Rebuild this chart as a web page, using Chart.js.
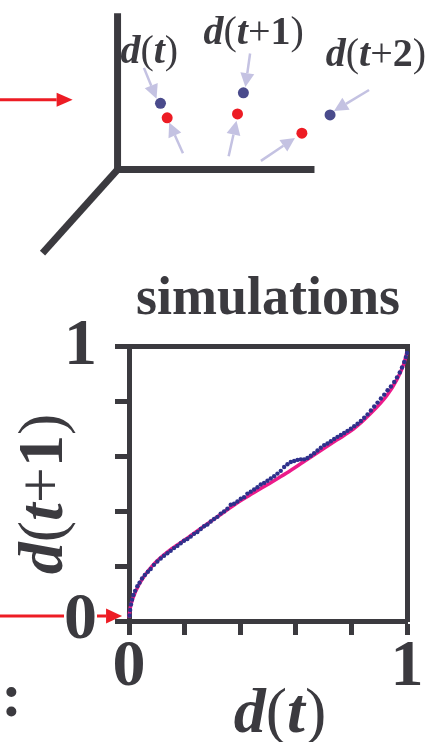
<!DOCTYPE html>
<html>
<head>
<meta charset="utf-8">
<script src="https://cdn.jsdelivr.net/npm/chart.js@4.4.1/dist/chart.umd.min.js"></script>
<style>
  html, body { margin: 0; padding: 0; background: #fff; }
  body { width: 435px; height: 742px; position: relative; overflow: hidden; }
  canvas { position: absolute; left: 0; }
  #sketch { top: 0; }
  #returnMap { top: 270px; }
</style>
</head>
<body>
<canvas id="sketch" width="435" height="270"></canvas>
<canvas id="returnMap" width="435" height="472"></canvas>
<script>
// ---- return map d(t) -> d(t+1) ----
// fitted curve
const fitX = [0, 0.004, 0.013, 0.037, 0.087, 0.147, 0.207, 0.267, 0.327, 0.387, 0.447, 0.507,
  0.567, 0.627, 0.687, 0.747, 0.807, 0.867, 0.927, 0.963, 0.987, 0.996, 1];
const fitY = [0.012, 0.045, 0.08, 0.135, 0.205, 0.259, 0.30, 0.344, 0.387, 0.43, 0.467, 0.503,
  0.54, 0.58, 0.62, 0.66, 0.70, 0.755, 0.822, 0.88, 0.934, 0.965, 0.982];

// simulated points
const simX = [0.002, 0.004, 0.007, 0.011, 0.016, 0.022, 0.03, 0.038, 0.047, 0.057, 0.068, 0.078,
  0.09, 0.102, 0.114, 0.126, 0.138, 0.15, 0.162, 0.174, 0.186, 0.198, 0.21, 0.222, 0.234, 0.246,
  0.258, 0.27, 0.282, 0.294, 0.306, 0.318, 0.33, 0.342, 0.354, 0.366, 0.378, 0.39, 0.402, 0.414,
  0.426, 0.438, 0.45, 0.462, 0.474, 0.486, 0.498, 0.51, 0.522, 0.534, 0.546, 0.558, 0.57, 0.582,
  0.594, 0.606, 0.618, 0.63, 0.642, 0.654, 0.666, 0.678, 0.69, 0.702, 0.714, 0.726, 0.738, 0.75,
  0.762, 0.774, 0.786, 0.798, 0.81, 0.822, 0.834, 0.846, 0.858, 0.87, 0.882, 0.894, 0.906, 0.918,
  0.93, 0.942, 0.954, 0.964, 0.974, 0.982, 0.99, 0.996, 1.0];
const simY = [0.02, 0.04, 0.06, 0.078, 0.095, 0.11, 0.127, 0.14, 0.155, 0.168, 0.18, 0.19,
  0.205, 0.217, 0.228, 0.238, 0.247, 0.256, 0.266, 0.274, 0.284, 0.293, 0.299, 0.308, 0.318, 0.325,
  0.336, 0.346, 0.352, 0.363, 0.372, 0.38, 0.392, 0.4, 0.41, 0.424, 0.428, 0.436, 0.446, 0.452,
  0.465, 0.472, 0.48, 0.488, 0.498, 0.504, 0.512, 0.52, 0.528, 0.538, 0.548, 0.562, 0.572, 0.58,
  0.584, 0.588, 0.59, 0.59, 0.595, 0.603, 0.612, 0.622, 0.632, 0.642, 0.648, 0.656, 0.664, 0.672,
  0.679, 0.686, 0.694, 0.702, 0.711, 0.72, 0.73, 0.742, 0.754, 0.768, 0.783, 0.797, 0.812, 0.826,
  0.842, 0.856, 0.872, 0.889, 0.907, 0.925, 0.945, 0.963, 0.978];

const tickStep = 0.2;
const labelledTicks = [0, 1];

// ---- 3D trajectory sketch (origin at the axes corner) ----
const frameX = [0, 0, 1];
const frameY = [0.807, 0, 0];
const depthX = [0, -0.381];
const depthY = [0, -0.431];
const simDotX = [0.218, 0.639, 1.079];
const simDotY = [0.342, 0.396, 0.282];
const expDotX = [0.252, 0.609, 0.936];
const expDotY = [0.267, 0.287, 0.188];
const pointerFrom = [[0.134, 0.525], [0.332, 0.084], [0.673, 0.599], [0.564, 0.069], [1.277, 0.411], [0.728, 0.045]];
const pointerTo = [[0.198, 0.366], [0.262, 0.243], [0.649, 0.426], [0.604, 0.252], [1.099, 0.302], [0.901, 0.163]];
const stepLabels = [
  [['d', 'i'], ['(', 'r'], ['t', 'i'], [')', 'r']],
  [['d', 'i'], ['(', 'r'], ['t', 'i'], ['+', 'r'], ['1', 'b'], [')', 'r']],
  [['d', 'i'], ['(', 'r'], ['t', 'i'], ['+', 'r'], ['2', 'b'], [')', 'r']]
];
const stepLabelX = [0.161, 0.691, 1.312];
const stepLabelY = [0.550, 0.649, 0.535];

const INK = '#3b3a3f';
const RED = '#ed1c24';
const LAVENDER = '#c4c2e2';
const SERIF = '"Liberation Serif", "Times New Roman", serif';

const pts = (xs, ys) => xs.map((x, i) => ({ x, y: ys[i] }));

function richText(ctx, parts, size, x, y, angle) {
  const fonts = {
    i: `italic bold ${size}px ${SERIF}`,
    b: `bold ${size}px ${SERIF}`,
    r: `${size}px ${SERIF}`
  };
  ctx.save();
  ctx.translate(x, y);
  if (angle) ctx.rotate(angle);
  ctx.textAlign = 'left';
  ctx.textBaseline = 'alphabetic';
  ctx.fillStyle = INK;
  let w = 0;
  parts.forEach(([t, s]) => { ctx.font = fonts[s]; w += ctx.measureText(t).width; });
  let cx = -w / 2;
  parts.forEach(([t, s]) => {
    ctx.font = fonts[s];
    ctx.fillText(t, cx, 0);
    cx += ctx.measureText(t).width;
  });
  ctx.restore();
}

function arrow(ctx, x1, y1, x2, y2, color, width, head, half) {
  const a = Math.atan2(y2 - y1, x2 - x1);
  const bx = x2 - head * Math.cos(a);
  const by = y2 - head * Math.sin(a);
  ctx.save();
  ctx.strokeStyle = color;
  ctx.fillStyle = color;
  ctx.lineWidth = width;
  ctx.beginPath();
  ctx.moveTo(x1, y1);
  ctx.lineTo(bx, by);
  ctx.stroke();
  ctx.beginPath();
  ctx.moveTo(x2, y2);
  ctx.lineTo(bx + half * Math.sin(a), by - half * Math.cos(a));
  ctx.lineTo(bx - half * Math.sin(a), by + half * Math.cos(a));
  ctx.closePath();
  ctx.fill();
  ctx.restore();
}

// sketch: arrows and labels placed in the sketch's own units
const sketchOverlay = {
  id: 'sketchOverlay',
  afterDatasetsDraw(chart) {
    const { ctx, scales: { x, y } } = chart;
    arrow(ctx, x.getPixelForValue(-0.6), y.getPixelForValue(0.361),
      x.getPixelForValue(-0.228), y.getPixelForValue(0.361), RED, 3, 16, 7);
    pointerFrom.forEach((p, i) => {
      const q = pointerTo[i];
      arrow(ctx, x.getPixelForValue(p[0]), y.getPixelForValue(p[1]),
        x.getPixelForValue(q[0]), y.getPixelForValue(q[1]), LAVENDER, 2.5, 14, 7);
    });
    stepLabels.forEach((parts, i) => {
      richText(ctx, parts, 40, x.getPixelForValue(stepLabelX[i]), y.getPixelForValue(stepLabelY[i]));
    });
  }
};

new Chart(document.getElementById('sketch'), {
  type: 'scatter',
  data: {
    datasets: [
      { type: 'line', data: pts(frameX, frameY), borderColor: INK, borderWidth: 7,
        borderJoinStyle: 'miter', pointRadius: 0, tension: 0 },
      { type: 'line', data: pts(depthX, depthY), borderColor: INK, borderWidth: 7,
        pointRadius: 0, tension: 0 },
      { data: pts(simDotX, simDotY), backgroundColor: '#4a4b8c', borderWidth: 0, pointRadius: 5.5 },
      { data: pts(expDotX, expDotY), backgroundColor: RED, borderWidth: 0, pointRadius: 5.5 }
    ]
  },
  options: {
    responsive: false,
    animation: false,
    devicePixelRatio: 1,
    events: [],
    layout: { padding: 0 },
    plugins: { legend: { display: false }, tooltip: { enabled: false } },
    scales: {
      x: { type: 'linear', display: false, min: -0.569, max: 1.584 },
      y: { type: 'linear', display: false, min: -0.490, max: 0.847 }
    }
  },
  plugins: [sketchOverlay]
});

// return map: axis titles, pointer arrow and the cut-off caption on the left
const mapOverlay = {
  id: 'mapOverlay',
  beforeDraw(chart) {
    const { ctx, scales: { x, y } } = chart;
    arrow(ctx, x.getPixelForValue(-0.47), y.getPixelForValue(0.018),
      x.getPixelForValue(-0.025), y.getPixelForValue(0.018), RED, 3, 16, 7.5);
  },
  afterDraw(chart) {
    const { ctx, chartArea: a } = chart;
    richText(ctx, [['d', 'i'], ['(', 'r'], ['t', 'i'], [')', 'r']], 64,
      (a.left + a.right) / 2 + 12, a.bottom + 111);
    richText(ctx, [['d', 'i'], ['(', 'r'], ['t', 'i'], ['+', 'r'], ['1', 'b'], [')', 'r']], 64,
      a.left - 67, (a.top + a.bottom) / 2 + 10, -Math.PI / 2);
    ctx.save();
    ctx.font = `bold 62px ${SERIF}`;
    ctx.fillStyle = INK;
    ctx.textAlign = 'right';
    ctx.fillText('s:', 22, a.bottom + 95);
    ctx.restore();
  }
};

const tickFont = { family: SERIF, size: 66, weight: 'bold', lineHeight: 1 };
const showEnds = (v) => (labelledTicks.includes(v) ? String(v) : '');

new Chart(document.getElementById('returnMap'), {
  type: 'scatter',
  data: {
    datasets: [
      { type: 'line', data: pts(fitX, fitY), borderColor: '#ec1a8a', borderWidth: 3.5,
        pointRadius: 0, cubicInterpolationMode: 'monotone', clip: 6, order: 2 },
      { data: pts(simX, simY), backgroundColor: '#2e318c', borderWidth: 0,
        pointRadius: 2.2, clip: 6, order: 1 }
    ]
  },
  options: {
    responsive: false,
    animation: false,
    devicePixelRatio: 1,
    events: [],
    layout: { padding: 0 },
    plugins: {
      legend: { display: false },
      tooltip: { enabled: false },
      title: {
        display: true,
        fullSize: false,
        text: 'simulations',
        color: INK,
        font: { family: SERIF, size: 54, weight: 'bold', lineHeight: 1.12 },
        padding: { top: 0, bottom: 16.5 }
      }
    },
    scales: {
      x: {
        type: 'linear', position: 'bottom', min: 0, max: 1,
        ticks: { stepSize: tickStep, autoSkip: false, maxRotation: 0, padding: 0,
          color: INK, font: tickFont, callback: showEnds },
        grid: { drawOnChartArea: false, tickLength: 14, tickWidth: 5, tickColor: INK },
        border: { width: 5, color: INK },
        afterFit: (s) => { s.height = 121; }
      },
      y: {
        type: 'linear', position: 'left', min: 0, max: 1,
        ticks: { stepSize: tickStep, autoSkip: false, padding: 18, color: INK, font: tickFont,
          callback: showEnds, showLabelBackdrop: true, backdropColor: '#fff', backdropPadding: 0 },
        grid: { drawOnChartArea: false, tickLength: 14, tickWidth: 5, tickColor: INK },
        border: { width: 5, color: INK },
        afterFit: (s) => { s.width = 129; }
      },
      xTop: {
        type: 'linear', position: 'top', min: 0, max: 1,
        ticks: { display: false },
        grid: { drawOnChartArea: false, drawTicks: false },
        border: { width: 5, color: INK },
        afterFit: (s) => { s.height = 0; }
      },
      yRight: {
        type: 'linear', position: 'right', min: 0, max: 1,
        ticks: { display: false },
        grid: { drawOnChartArea: false, drawTicks: false },
        border: { width: 5, color: INK },
        afterFit: (s) => { s.width = 28; }
      }
    }
  },
  plugins: [mapOverlay]
});
</script>
</body>
</html>
